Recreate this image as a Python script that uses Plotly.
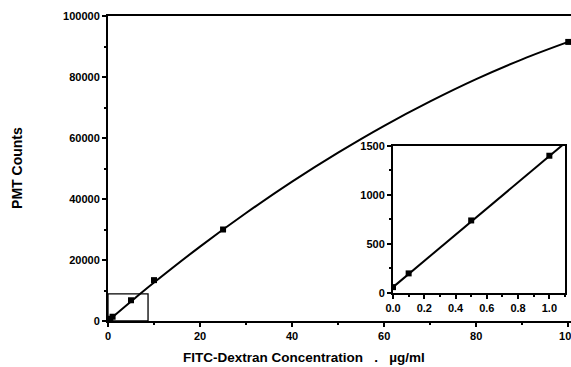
import plotly.graph_objects as go

# Main data (µg/ml vs PMT counts)
main_x = [0, 0.1, 0.5, 1.0, 5, 10, 25, 100]
main_y = [60, 200, 740, 1400, 6800, 13400, 30000, 91500]

# Fitted curve
curve_x = [0, 5, 10, 20, 30, 40, 50, 60, 70, 80, 90, 100]
curve_y = [0, 6400, 12600, 24400, 35400, 45700, 55200, 64000, 72000, 79300, 85800, 91500]

# Inset data
inset_x = [0.0, 0.1, 0.5, 1.0]
inset_y = [60, 200, 740, 1400]
inset_line_x = [0.0, 1.1]
inset_line_y = [60, 1530]

# Zoom box region (drawn on main plot)
box_x = [0, 8.7]
box_y = [0, 8900]

main_xticks = [0, 20, 40, 60, 80, 100]
main_yticks = [0, 20000, 40000, 60000, 80000, 100000]
inset_xticks = [0.0, 0.2, 0.4, 0.6, 0.8, 1.0]
inset_yticks = [0, 500, 1000, 1500]

FONT = "Liberation Sans"
tickfont = dict(family=FONT, size=11, color="black", weight="bold")

fig = go.Figure()
fig.add_trace(go.Scatter(x=curve_x, y=curve_y, mode="lines",
                         line=dict(color="black", width=2, shape="spline"),
                         showlegend=False))
fig.add_trace(go.Scatter(x=main_x, y=main_y, mode="markers",
                         marker=dict(symbol="square", size=6, color="black"),
                         showlegend=False))
fig.add_trace(go.Scatter(x=inset_line_x, y=inset_line_y, mode="lines",
                         line=dict(color="black", width=2),
                         xaxis="x2", yaxis="y2", showlegend=False))
fig.add_trace(go.Scatter(x=inset_x, y=inset_y, mode="markers",
                         marker=dict(symbol="square", size=6, color="black"),
                         xaxis="x2", yaxis="y2", showlegend=False))

fig.add_shape(type="rect", xref="x", yref="y",
              x0=box_x[0], x1=box_x[1], y0=box_y[0], y1=box_y[1],
              line=dict(color="black", width=1.3))

axis_common = dict(showgrid=False, zeroline=False, showline=True,
                   linecolor="black", linewidth=2, ticks="outside",
                   ticklen=4, tickwidth=1.5, tickcolor="black",
                   tickfont=tickfont, ticklabeloverflow="allow",
                   automargin=False)

titlefont = dict(family=FONT, size=13.5, color="black", weight="bold")

fig.update_layout(
    width=571, height=367,
    margin=dict(l=108, r=0, t=16, b=46),
    paper_bgcolor="white", plot_bgcolor="white",
    xaxis=dict(range=[0, 100.6], tickvals=main_xticks,
               minor=dict(dtick=10, ticks="outside", ticklen=2, tickcolor="black"),
               mirror=True, **axis_common),
    yaxis=dict(range=[0, 100000], tickvals=main_yticks,
               ticktext=[str(v) for v in main_yticks],
               minor=dict(dtick=10000, ticks="outside", ticklen=2, tickcolor="black"),
               mirror=False, **axis_common),
    xaxis2=dict(domain=[0.6156, 0.987], anchor="y2", range=[0, 1.1],
                tickvals=inset_xticks, ticktext=["0.0", "0.2", "0.4", "0.6", "0.8", "1.0"],
                minor=dict(dtick=0.1, ticks="outside", ticklen=2, tickcolor="black"),
                mirror=True, **axis_common),
    yaxis2=dict(domain=[0.0918, 0.574], anchor="x2", range=[0, 1500],
                tickvals=inset_yticks, ticktext=[str(v) for v in inset_yticks],
                minor=dict(dtick=250, ticks="outside", ticklen=2, tickcolor="black"),
                mirror=True, **axis_common),
    annotations=[
        dict(text="FITC-Dextran Concentration   .   µg/ml", xref="paper", yref="paper",
             x=0.424, y=-0.121, xanchor="center", yanchor="middle",
             showarrow=False, font=titlefont),
        dict(text="PMT Counts", xref="paper", yref="paper",
             x=-0.1965, y=0.502, xanchor="center", yanchor="middle", textangle=-90,
             showarrow=False, font=dict(family=FONT, size=14, color="black", weight="bold")),
    ],
)

fig.write_html("out.html")
